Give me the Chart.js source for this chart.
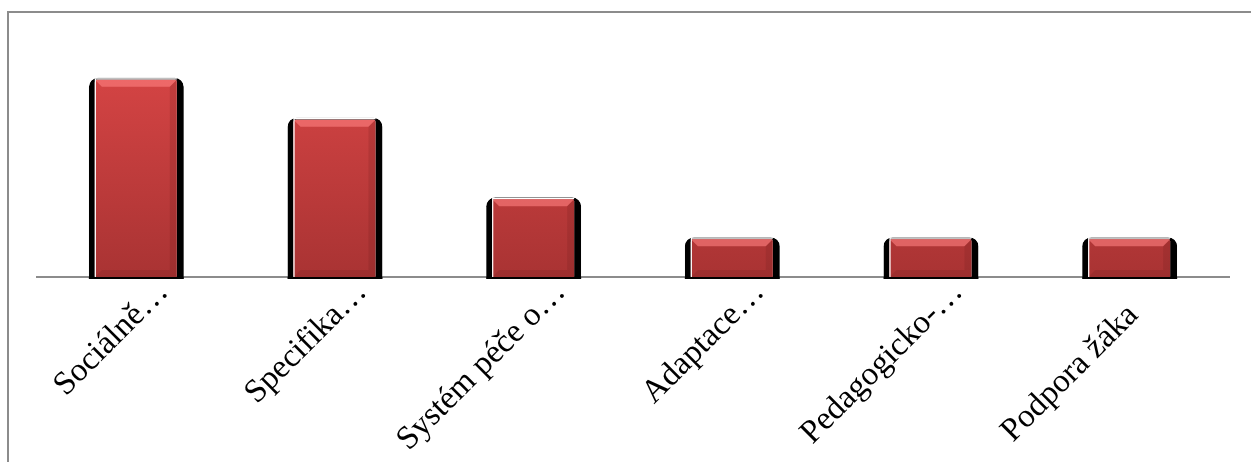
<!DOCTYPE html>
<html>
<head>
<meta charset="utf-8">
<script src="https://cdn.jsdelivr.net/npm/chart.js@4/dist/chart.umd.min.js"></script>
<style>
  body { margin: 0; background: #fff; }
  #frame { position: absolute; left: 7px; top: 11px; width: 1300px; height: 500px;
           border-left: 2px solid #8c8c8c; border-top: 2px solid #8c8c8c; }
  #wrap { position: absolute; left: 0; top: 0; width: 1251px; height: 462px; }
</style>
</head>
<body>
<div id="frame"></div>
<div id="wrap"><canvas id="chart"></canvas></div>
<script>
// Chart data
const categories = ['Sociálně…', 'Specifika…', 'Systém péče o…', 'Adaptace…', 'Pedagogicko-…', 'Podpora žáka'];
const counts = [5, 4, 2, 1, 1, 1];
const yMax = 6;

// Bevel highlight on top of each bar
const bevelPlugin = {
  id: 'bevel',
  afterDatasetsDraw(chart) {
    const ctx = chart.ctx;
    chart.getDatasetMeta(0).data.forEach(bar => {
      const left = bar.x - bar.width / 2 + 6;
      const right = bar.x + bar.width / 2 - 7;
      const top = bar.y + 2;
      const bottom = bar.base;
      const b = 7;
      ctx.save();
      // top highlight
      ctx.fillStyle = 'rgba(255,130,130,0.6)';
      ctx.beginPath();
      ctx.moveTo(left, top);
      ctx.lineTo(right, top);
      ctx.lineTo(right - b, top + b);
      ctx.lineTo(left + b, top + b);
      ctx.closePath();
      ctx.fill();
      // right and bottom shade
      ctx.fillStyle = 'rgba(90,20,20,0.15)';
      ctx.beginPath();
      ctx.moveTo(right, top);
      ctx.lineTo(right, bottom);
      ctx.lineTo(right - b, bottom - b);
      ctx.lineTo(right - b, top + b);
      ctx.closePath();
      ctx.fill();
      ctx.beginPath();
      ctx.moveTo(left, bottom);
      ctx.lineTo(right, bottom);
      ctx.lineTo(right - b, bottom - b);
      ctx.lineTo(left + b, bottom - b);
      ctx.closePath();
      ctx.fill();
      // left white edge
      ctx.strokeStyle = '#ffffff';
      ctx.lineWidth = 1.2;
      ctx.beginPath();
      ctx.moveTo(left + 0.5, bottom);
      ctx.lineTo(left + 0.5, top - 1);
      ctx.lineTo(right, top - 1);
      ctx.stroke();
      // dark foot below the axis
      ctx.fillStyle = '#000';
      ctx.fillRect(bar.x - bar.width / 2, bottom, bar.width, 2);
      ctx.restore();
    });
  }
};

function barGradient(context) {
  const area = context.chart.chartArea;
  if (!area) return '#c83c3c';
  const g = context.chart.ctx.createLinearGradient(0, area.top, 0, area.bottom);
  g.addColorStop(0, '#dc4747');
  g.addColorStop(1, '#a93333');
  return g;
}

new Chart(document.getElementById('chart'), {
  type: 'bar',
  data: {
    labels: categories,
    datasets: [{
      data: counts,
      backgroundColor: barGradient,
      borderColor: '#000000',
      borderWidth: { top: 2, left: 6, right: 7, bottom: 0 },
      borderRadius: { topLeft: 9, topRight: 9, bottomLeft: 0, bottomRight: 0 },
      borderSkipped: false,
      barPercentage: 0.478,
      categoryPercentage: 1
    }]
  },
  options: {
    responsive: true,
    maintainAspectRatio: false,
    animation: false,
    layout: { padding: { left: 37, right: 22, top: 38, bottom: 0 } },
    plugins: {
      legend: { display: false },
      tooltip: { enabled: false }
    },
    scales: {
      x: {
        grid: { display: false },
        border: { display: true, color: '#8c8c8c', width: 2 },
        afterFit(scale) { scale.height = 185; },
        ticks: {
          color: '#000',
          font: { family: '"Liberation Serif"', size: 33 },
          minRotation: 45,
          maxRotation: 45,
          labelOffset: 27,
          padding: -12,
          autoSkip: false,
          // untruncated labels sit a little further down the slope
          callback(value) {
            const label = this.getLabelForValue(value);
            return label.endsWith('…') ? label : label + '\u00a0\u00a0\u00a0\u00a0';
          }
        }
      },
      y: {
        display: false,
        min: 0,
        max: yMax
      }
    }
  },
  plugins: [bevelPlugin]
});
</script>
</body>
</html>
